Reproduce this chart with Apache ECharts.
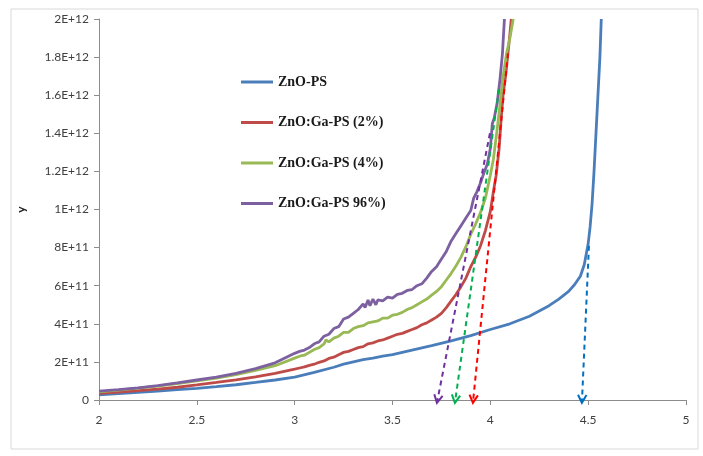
<!DOCTYPE html>
<html>
<head>
<meta charset="utf-8">
<script src="https://cdn.jsdelivr.net/npm/echarts@6/dist/echarts.min.js"></script>
<style>
html,body{margin:0;padding:0;background:#fff;}
#chart{width:703px;height:456px;}
</style>
</head>
<body>
<div id="chart"></div>
<script>
// ---- data ----
var seriesNames = ['ZnO-PS', 'ZnO:Ga-PS (2%)', 'ZnO:Ga-PS (4%)', 'ZnO:Ga-PS 96%)'];

var znoX = [2.0,2.1,2.2,2.3,2.4,2.5,2.6,2.7,2.8,2.9,3.0,3.1,3.2,3.25,3.3,3.35,3.4,3.45,3.5,3.6,3.7,3.8,3.9,4.0,4.1,4.2,4.3,4.35,4.4,4.43,4.46,4.48,4.5,4.51,4.52,4.53,4.54,4.55,4.56,4.567];
var znoY = [2.7e10,3.3e10,4.0e10,4.7e10,5.4e10,6.1e10,7.0e10,8.0e10,9.2e10,1.05e11,1.2e11,1.45e11,1.72e11,1.88e11,2.0e11,2.12e11,2.2e11,2.3e11,2.38e11,2.62e11,2.85e11,3.1e11,3.38e11,3.7e11,4.0e11,4.4e11,4.95e11,5.3e11,5.7e11,6.05e11,6.5e11,7.1e11,8.2e11,9.1e11,1.03e12,1.2e12,1.4e12,1.6e12,1.8e12,2.0e12];

var ga2X = [2.0,2.1,2.2,2.3,2.4,2.5,2.6,2.7,2.8,2.9,3.0,3.025,3.05,3.075,3.1,3.125,3.15,3.175,3.2,3.225,3.25,3.275,3.3,3.325,3.35,3.375,3.4,3.425,3.45,3.475,3.5,3.525,3.55,3.575,3.6,3.625,3.65,3.675,3.7,3.725,3.75,3.775,3.8,3.825,3.85,3.875,3.9,3.925,3.95,3.975,4.0,4.015,4.03,4.045,4.055,4.065,4.078,4.09,4.1,4.107];
var ga2Y = [3.5e10,4.2e10,4.9e10,5.7e10,6.7e10,7.9e10,9.2e10,1.06e11,1.22e11,1.4e11,1.62e11,1.68e11,1.74e11,1.82e11,1.88e11,1.98e11,2.05e11,2.18e11,2.25e11,2.38e11,2.5e11,2.55e11,2.65e11,2.75e11,2.8e11,2.95e11,3.0e11,3.1e11,3.15e11,3.25e11,3.35e11,3.45e11,3.5e11,3.6e11,3.7e11,3.8e11,3.95e11,4.05e11,4.2e11,4.35e11,4.55e11,4.85e11,5.2e11,5.55e11,5.95e11,6.4e11,7.0e11,7.5e11,8.1e11,8.9e11,9.9e11,1.09e12,1.18e12,1.32e12,1.47e12,1.6e12,1.7e12,1.82e12,1.92e12,2.0e12];

var ga4X = [2.0,2.1,2.2,2.3,2.4,2.5,2.6,2.7,2.8,2.9,3.0,3.025,3.05,3.075,3.1,3.125,3.15,3.16,3.175,3.2,3.225,3.25,3.275,3.3,3.325,3.35,3.375,3.4,3.425,3.45,3.475,3.5,3.525,3.55,3.575,3.6,3.625,3.65,3.675,3.7,3.725,3.75,3.775,3.8,3.825,3.85,3.875,3.9,3.925,3.95,3.975,4.0,4.015,4.03,4.045,4.063,4.083,4.1,4.117];
var ga4Y = [4.3e10,5.2e10,6.2e10,7.3e10,8.6e10,1.0e11,1.15e11,1.33e11,1.55e11,1.8e11,2.2e11,2.3e11,2.35e11,2.5e11,2.65e11,2.75e11,2.95e11,3.15e11,3.05e11,3.25e11,3.35e11,3.55e11,3.55e11,3.75e11,3.85e11,3.9e11,4.05e11,4.1e11,4.15e11,4.3e11,4.3e11,4.45e11,4.5e11,4.6e11,4.75e11,4.85e11,5.0e11,5.15e11,5.3e11,5.5e11,5.7e11,5.95e11,6.3e11,6.65e11,7.05e11,7.5e11,8.05e11,8.7e11,9.25e11,9.85e11,1.06e12,1.18e12,1.26e12,1.38e12,1.51e12,1.68e12,1.82e12,1.9e12,2.0e12];

var ga96X = [2.0,2.1,2.2,2.3,2.4,2.5,2.6,2.7,2.8,2.9,3.0,3.025,3.05,3.075,3.1,3.125,3.15,3.175,3.2,3.225,3.25,3.275,3.3,3.325,3.35,3.36,3.375,3.385,3.4,3.415,3.425,3.45,3.475,3.5,3.525,3.55,3.575,3.6,3.625,3.65,3.675,3.7,3.725,3.75,3.775,3.8,3.825,3.85,3.875,3.9,3.915,3.93,3.95,3.97,3.985,4.0,4.01,4.02,4.035,4.05,4.062,4.072];
var ga96Y = [4.7e10,5.5e10,6.4e10,7.6e10,9.0e10,1.05e11,1.2e11,1.4e11,1.65e11,1.95e11,2.45e11,2.55e11,2.62e11,2.75e11,2.95e11,3.05e11,3.35e11,3.45e11,3.75e11,3.85e11,4.25e11,4.35e11,4.55e11,4.75e11,5.05e11,4.85e11,5.25e11,4.95e11,5.3e11,5.0e11,5.25e11,5.2e11,5.4e11,5.35e11,5.55e11,5.6e11,5.75e11,5.8e11,6.0e11,6.1e11,6.4e11,6.75e11,7.0e11,7.4e11,7.8e11,8.35e11,8.75e11,9.15e11,9.55e11,9.95e11,1.06e12,1.09e12,1.14e12,1.2e12,1.24e12,1.32e12,1.45e12,1.48e12,1.56e12,1.69e12,1.82e12,2.0e12];

// dashed arrows: start (x,y) -> end (x,y)
var arrowStartX = [3.998, 4.044, 4.090, 4.504];
var arrowStartY = [1.40e12, 1.63e12, 1.82e12, 8.1e11];
var arrowEndX = [3.727, 3.819, 3.911, 4.468];
var arrowEndY = [-1.5e10, -1.5e10, -1.5e10, -1.5e10];

var xTicks = [2, 2.5, 3, 3.5, 4, 4.5, 5];

// ---- styles ----
var lineColors = ['#4A7EBB', '#BE4B48', '#98B954', '#7D60A0'];
var arrowColors = ['#7030A0', '#00B050', '#FF0000', '#0070C0'];

function zip(xs, ys) { return xs.map(function (x, i) { return [x, ys[i]]; }); }

function sciLabel(v) {
  if (v === 0) return '0';
  var e = Math.floor(Math.log10(v) + 1e-9);
  var m = parseFloat((v / Math.pow(10, e)).toFixed(2));
  return m + 'E+' + e;
}

var chart = echarts.init(document.getElementById('chart'), null, {renderer: 'canvas'});

var dataSets = [zip(znoX, znoY), zip(ga2X, ga2Y), zip(ga4X, ga4Y), zip(ga96X, ga96Y)];
var lineSeries = dataSets.map(function (d, i) {
  return {
    name: seriesNames[i], type: 'line', data: d, symbol: 'none', showSymbol: false,
    smooth: false, z: 2 + i,
    lineStyle: {color: lineColors[i], width: 2.8},
    itemStyle: {color: lineColors[i]}
  };
});

var arrowData = arrowStartX.map(function (x, i) {
  return [x, arrowStartY[i], arrowEndX[i], arrowEndY[i], i];
});

var arrowSeries = {
  type: 'custom', z: 10, silent: true,
  clip: false,
  encode: {x: [0, 2], y: [1, 3]},
  data: arrowData,
  renderItem: function (params, api) {
    var p1 = api.coord([api.value(0), api.value(1)]);
    var p2 = api.coord([api.value(2), api.value(3)]);
    var c = arrowColors[api.value(4)];
    var dx = p2[0] - p1[0], dy = p2[1] - p1[1];
    var len = Math.sqrt(dx * dx + dy * dy);
    var ux = dx / len, uy = dy / len;
    var L = 9, a = 28 * Math.PI / 180;
    function arm(s) {
      var ca = Math.cos(s * a), sa = Math.sin(s * a);
      var rx = ux * ca - uy * sa, ry = ux * sa + uy * ca;
      return [p2[0] - L * rx, p2[1] - L * ry];
    }
    return {
      type: 'group',
      children: [
        {type: 'line', shape: {x1: p1[0], y1: p1[1], x2: p2[0], y2: p2[1]},
         style: {stroke: c, lineWidth: 2, lineDash: [5, 4]}},
        {type: 'polyline', shape: {points: [arm(1), p2, arm(-1)]},
         style: {stroke: c, lineWidth: 2, fill: null}}
      ]
    };
  }
};

var labelFont = {fontFamily: 'Lato, "Open Sans", sans-serif', fontSize: 12, color: '#404040'};

chart.setOption({
  animation: false,
  backgroundColor: '#fff',
  graphic: [{
    type: 'rect', shape: {x: 11, y: 9, width: 687, height: 440},
    style: {fill: null, stroke: '#d9d9d9', lineWidth: 1}, z: -1
  }],
  legend: {
    orient: 'vertical', left: 241, top: 75, padding: 0,
    icon: 'rect', itemWidth: 32, itemHeight: 3, itemGap: 26.5,
    data: seriesNames,
    textStyle: {fontFamily: '"Liberation Serif", "Times New Roman", serif', fontWeight: 'bold', fontSize: 14, lineHeight: 14, color: '#1a1a1a'}
  },
  grid: {left: 99, right: 17, top: 19, bottom: 56, containLabel: false},
  xAxis: {
    type: 'value', min: 2, max: 5, interval: 0.5,
    axisLine: {show: true, lineStyle: {color: '#8c8c8c', width: 1}},
    axisTick: {show: true, length: 5, lineStyle: {color: '#8c8c8c'}},
    splitLine: {show: false},
    axisLabel: Object.assign({margin: 14, formatter: function (v) { return String(v); }}, labelFont)
  },
  yAxis: {
    type: 'value', min: 0, max: 2e12, interval: 2e11,
    name: 'y', nameLocation: 'middle', nameGap: 72, nameRotate: 90,
    nameTextStyle: {fontFamily: 'Lato, sans-serif', fontWeight: 'bold', fontSize: 12, color: '#222'},
    axisLine: {show: true, lineStyle: {color: '#8c8c8c', width: 1}},
    axisTick: {show: true, length: 5, lineStyle: {color: '#8c8c8c'}},
    splitLine: {show: false},
    axisLabel: Object.assign({margin: 10, formatter: sciLabel}, labelFont)
  },
  series: lineSeries.concat([arrowSeries])
});
</script>
</body>
</html>
